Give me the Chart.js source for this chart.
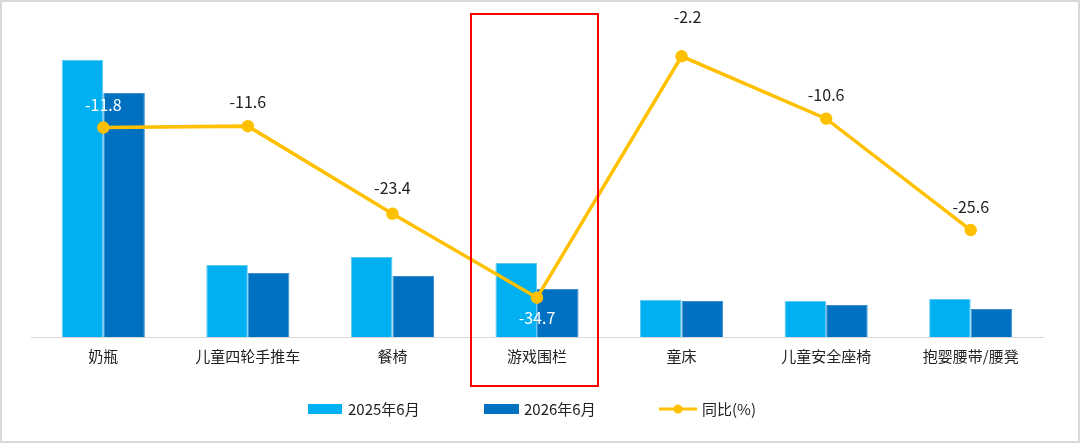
<!DOCTYPE html>
<html lang="zh-CN">
<head>
<meta charset="UTF-8">
<title>同比</title>
<script src="https://cdn.jsdelivr.net/npm/chart.js"></script>
<style>
  html, body { margin: 0; padding: 0; background: #fff; }
  #wrap { width: 1080px; height: 443px; }
</style>
</head>
<body>
<div id="wrap"><canvas id="grafico"></canvas></div>
<script>
const categorias = ['奶瓶', '儿童四轮手推车', '餐椅', '游戏围栏', '童床', '儿童安全座椅', '抱婴腰带/腰凳'];
const vendas2025 = [277, 72, 80, 74, 37, 36, 38];
const vendas2026 = [244, 64, 61, 48, 36, 32, 28];
const tongbi = [-11.8, -11.6, -23.4, -34.7, -2.2, -10.6, -25.6];
const destaque = '游戏围栏';

const FONTE = '"Noto Sans CJK SC", "Microsoft YaHei", sans-serif';

// posição dos rótulos da linha (px acima/abaixo do ponto) e cor
const deslocRotulo = [-23, -24, -26, 20, -39, -24, -23];
const corRotulo = ['#ffffff', '#222', '#222', '#ffffff', '#222', '#222', '#222'];

const extras = {
  id: 'extras',
  afterDatasetsDraw(chart) {
    const ctx = chart.ctx;
    const meta = chart.getDatasetMeta(2);
    ctx.save();
    ctx.font = '16px ' + FONTE;
    ctx.textAlign = 'center';
    ctx.textBaseline = 'middle';
    meta.data.forEach((pt, i) => {
      ctx.fillStyle = corRotulo[i];
      ctx.fillText(tongbi[i].toFixed(1), pt.x + (i === 4 ? 6 : 0), pt.y + deslocRotulo[i]);
    });

    // caixa vermelha
    const x = chart.scales.x.getPixelForValue(categorias.indexOf(destaque));
    ctx.strokeStyle = '#ff0000';
    ctx.lineWidth = 2;
    ctx.strokeRect(x - 66, 14, 127, 372);

    // legenda
    const ly = 409;
    ctx.font = '15px ' + FONTE;
    ctx.textAlign = 'left';
    ctx.fillStyle = '#00b0f0';
    ctx.fillRect(308, ly - 5, 34, 10);
    ctx.fillStyle = '#0070c0';
    ctx.fillRect(484, ly - 5, 35, 10);
    ctx.strokeStyle = '#ffc000';
    ctx.lineWidth = 3;
    ctx.beginPath(); ctx.moveTo(659, ly); ctx.lineTo(697, ly); ctx.stroke();
    ctx.fillStyle = '#ffc000';
    ctx.beginPath(); ctx.arc(678, ly, 4.5, 0, Math.PI * 2); ctx.fill();
    ctx.fillStyle = '#222';
    ctx.fillText('2025年6月', 348, ly);
    ctx.fillText('2026年6月', 524, ly);
    ctx.fillText('同比(%)', 702, ly);

    // moldura
    ctx.strokeStyle = '#d9d9d9';
    ctx.lineWidth = 2;
    ctx.strokeRect(1, 1, chart.width - 2, chart.height - 2);
    ctx.restore();
  }
};

new Chart(document.getElementById('grafico'), {
  data: {
    labels: categorias,
    datasets: [
      {
        type: 'bar', label: '2025年6月', data: vendas2025, yAxisID: 'y',
        backgroundColor: '#00b0f0', borderColor: '#5ccaf5', borderWidth: 1,
        categoryPercentage: 0.575, barPercentage: 1, order: 2
      },
      {
        type: 'bar', label: '2026年6月', data: vendas2026, yAxisID: 'y',
        backgroundColor: '#0070c0', borderColor: '#3a8fd0', borderWidth: 1,
        categoryPercentage: 0.575, barPercentage: 1, order: 2
      },
      {
        type: 'line', label: '同比(%)', data: tongbi, yAxisID: 'y1',
        borderColor: '#ffc000', backgroundColor: '#ffc000', borderWidth: 3.5,
        pointRadius: 4.5, pointHoverRadius: 4.5, tension: 0, order: 0
      }
    ]
  },
  options: {
    responsive: true,
    maintainAspectRatio: false,
    animation: false,
    layout: { padding: { left: 31, right: 37, top: 40, bottom: 68 } },
    plugins: { legend: { display: false }, tooltip: { enabled: false } },
    scales: {
      x: {
        grid: { display: false, drawTicks: false },
        border: { display: true, color: '#d9d9d9', width: 1 },
        ticks: { padding: 10, color: '#222', font: { family: FONTE, size: 15 } }
      },
      y: { display: false, min: 0, max: 297 },
      y1: { display: false, min: -40, max: 0 }
    }
  },
  plugins: [extras]
});
</script>
</body>
</html>
